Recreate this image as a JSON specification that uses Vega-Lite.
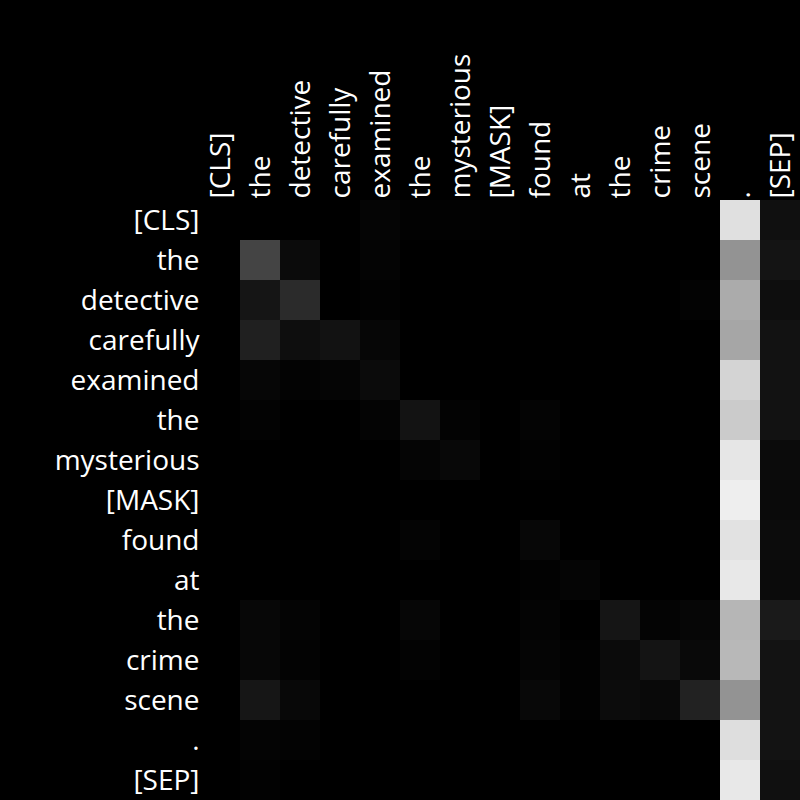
{
  "$schema": "https://vega.github.io/schema/vega-lite/v6.json",
  "width": 600,
  "height": 600,
  "autosize": {"type": "none"},
  "padding": {"left": 200, "top": 200, "right": 0, "bottom": 0},
  "background": "#000000",
  "config": {"view": {"stroke": null}, "font": "Open Sans"},
  "data": {"values": [
    {"r":0,"c":0,"v":0},{"r":0,"c":1,"v":0},{"r":0,"c":2,"v":0},{"r":0,"c":3,"v":0},{"r":0,"c":4,"v":0.020},{"r":0,"c":5,"v":0.008},{"r":0,"c":6,"v":0.006},{"r":0,"c":7,"v":0.004},{"r":0,"c":8,"v":0},{"r":0,"c":9,"v":0},{"r":0,"c":10,"v":0},{"r":0,"c":11,"v":0},{"r":0,"c":12,"v":0},{"r":0,"c":13,"v":0.878},{"r":0,"c":14,"v":0.063},
    {"r":1,"c":0,"v":0},{"r":1,"c":1,"v":0.267},{"r":1,"c":2,"v":0.043},{"r":1,"c":3,"v":0},{"r":1,"c":4,"v":0.016},{"r":1,"c":5,"v":0},{"r":1,"c":6,"v":0},{"r":1,"c":7,"v":0},{"r":1,"c":8,"v":0},{"r":1,"c":9,"v":0},{"r":1,"c":10,"v":0},{"r":1,"c":11,"v":0},{"r":1,"c":12,"v":0},{"r":1,"c":13,"v":0.576},{"r":1,"c":14,"v":0.078},
    {"r":2,"c":0,"v":0},{"r":2,"c":1,"v":0.082},{"r":2,"c":2,"v":0.169},{"r":2,"c":3,"v":0},{"r":2,"c":4,"v":0.008},{"r":2,"c":5,"v":0},{"r":2,"c":6,"v":0},{"r":2,"c":7,"v":0},{"r":2,"c":8,"v":0},{"r":2,"c":9,"v":0},{"r":2,"c":10,"v":0},{"r":2,"c":11,"v":0},{"r":2,"c":12,"v":0.012},{"r":2,"c":13,"v":0.671},{"r":2,"c":14,"v":0.055},
    {"r":3,"c":0,"v":0},{"r":3,"c":1,"v":0.125},{"r":3,"c":2,"v":0.055},{"r":3,"c":3,"v":0.071},{"r":3,"c":4,"v":0.024},{"r":3,"c":5,"v":0},{"r":3,"c":6,"v":0},{"r":3,"c":7,"v":0},{"r":3,"c":8,"v":0},{"r":3,"c":9,"v":0},{"r":3,"c":10,"v":0},{"r":3,"c":11,"v":0},{"r":3,"c":12,"v":0},{"r":3,"c":13,"v":0.651},{"r":3,"c":14,"v":0.071},
    {"r":4,"c":0,"v":0},{"r":4,"c":1,"v":0.024},{"r":4,"c":2,"v":0.012},{"r":4,"c":3,"v":0.020},{"r":4,"c":4,"v":0.043},{"r":4,"c":5,"v":0},{"r":4,"c":6,"v":0},{"r":4,"c":7,"v":0},{"r":4,"c":8,"v":0},{"r":4,"c":9,"v":0},{"r":4,"c":10,"v":0},{"r":4,"c":11,"v":0},{"r":4,"c":12,"v":0},{"r":4,"c":13,"v":0.831},{"r":4,"c":14,"v":0.071},
    {"r":5,"c":0,"v":0},{"r":5,"c":1,"v":0.012},{"r":5,"c":2,"v":0},{"r":5,"c":3,"v":0},{"r":5,"c":4,"v":0.016},{"r":5,"c":5,"v":0.075},{"r":5,"c":6,"v":0.012},{"r":5,"c":7,"v":0},{"r":5,"c":8,"v":0.016},{"r":5,"c":9,"v":0},{"r":5,"c":10,"v":0},{"r":5,"c":11,"v":0},{"r":5,"c":12,"v":0},{"r":5,"c":13,"v":0.796},{"r":5,"c":14,"v":0.071},
    {"r":6,"c":0,"v":0},{"r":6,"c":1,"v":0},{"r":6,"c":2,"v":0},{"r":6,"c":3,"v":0},{"r":6,"c":4,"v":0},{"r":6,"c":5,"v":0.020},{"r":6,"c":6,"v":0.031},{"r":6,"c":7,"v":0},{"r":6,"c":8,"v":0.008},{"r":6,"c":9,"v":0},{"r":6,"c":10,"v":0},{"r":6,"c":11,"v":0},{"r":6,"c":12,"v":0},{"r":6,"c":13,"v":0.902},{"r":6,"c":14,"v":0.043},
    {"r":7,"c":0,"v":0},{"r":7,"c":1,"v":0},{"r":7,"c":2,"v":0},{"r":7,"c":3,"v":0},{"r":7,"c":4,"v":0},{"r":7,"c":5,"v":0},{"r":7,"c":6,"v":0},{"r":7,"c":7,"v":0},{"r":7,"c":8,"v":0},{"r":7,"c":9,"v":0},{"r":7,"c":10,"v":0},{"r":7,"c":11,"v":0},{"r":7,"c":12,"v":0},{"r":7,"c":13,"v":0.933},{"r":7,"c":14,"v":0.039},
    {"r":8,"c":0,"v":0},{"r":8,"c":1,"v":0},{"r":8,"c":2,"v":0},{"r":8,"c":3,"v":0},{"r":8,"c":4,"v":0},{"r":8,"c":5,"v":0.016},{"r":8,"c":6,"v":0},{"r":8,"c":7,"v":0},{"r":8,"c":8,"v":0.027},{"r":8,"c":9,"v":0},{"r":8,"c":10,"v":0},{"r":8,"c":11,"v":0},{"r":8,"c":12,"v":0},{"r":8,"c":13,"v":0.886},{"r":8,"c":14,"v":0.047},
    {"r":9,"c":0,"v":0},{"r":9,"c":1,"v":0},{"r":9,"c":2,"v":0},{"r":9,"c":3,"v":0},{"r":9,"c":4,"v":0},{"r":9,"c":5,"v":0},{"r":9,"c":6,"v":0},{"r":9,"c":7,"v":0},{"r":9,"c":8,"v":0.008},{"r":9,"c":9,"v":0.020},{"r":9,"c":10,"v":0},{"r":9,"c":11,"v":0},{"r":9,"c":12,"v":0},{"r":9,"c":13,"v":0.910},{"r":9,"c":14,"v":0.043},
    {"r":10,"c":0,"v":0},{"r":10,"c":1,"v":0.027},{"r":10,"c":2,"v":0.016},{"r":10,"c":3,"v":0},{"r":10,"c":4,"v":0},{"r":10,"c":5,"v":0.024},{"r":10,"c":6,"v":0},{"r":10,"c":7,"v":0},{"r":10,"c":8,"v":0.016},{"r":10,"c":9,"v":0},{"r":10,"c":10,"v":0.082},{"r":10,"c":11,"v":0.016},{"r":10,"c":12,"v":0.024},{"r":10,"c":13,"v":0.714},{"r":10,"c":14,"v":0.102},
    {"r":11,"c":0,"v":0},{"r":11,"c":1,"v":0.027},{"r":11,"c":2,"v":0.012},{"r":11,"c":3,"v":0},{"r":11,"c":4,"v":0},{"r":11,"c":5,"v":0.012},{"r":11,"c":6,"v":0},{"r":11,"c":7,"v":0},{"r":11,"c":8,"v":0.020},{"r":11,"c":9,"v":0.008},{"r":11,"c":10,"v":0.043},{"r":11,"c":11,"v":0.078},{"r":11,"c":12,"v":0.035},{"r":11,"c":13,"v":0.722},{"r":11,"c":14,"v":0.075},
    {"r":12,"c":0,"v":0},{"r":12,"c":1,"v":0.086},{"r":12,"c":2,"v":0.031},{"r":12,"c":3,"v":0},{"r":12,"c":4,"v":0},{"r":12,"c":5,"v":0},{"r":12,"c":6,"v":0},{"r":12,"c":7,"v":0},{"r":12,"c":8,"v":0.031},{"r":12,"c":9,"v":0.008},{"r":12,"c":10,"v":0.047},{"r":12,"c":11,"v":0.035},{"r":12,"c":12,"v":0.133},{"r":12,"c":13,"v":0.576},{"r":12,"c":14,"v":0.075},
    {"r":13,"c":0,"v":0},{"r":13,"c":1,"v":0.016},{"r":13,"c":2,"v":0.012},{"r":13,"c":3,"v":0},{"r":13,"c":4,"v":0},{"r":13,"c":5,"v":0},{"r":13,"c":6,"v":0},{"r":13,"c":7,"v":0},{"r":13,"c":8,"v":0},{"r":13,"c":9,"v":0},{"r":13,"c":10,"v":0},{"r":13,"c":11,"v":0},{"r":13,"c":12,"v":0},{"r":13,"c":13,"v":0.871},{"r":13,"c":14,"v":0.075},
    {"r":14,"c":0,"v":0},{"r":14,"c":1,"v":0.008},{"r":14,"c":2,"v":0},{"r":14,"c":3,"v":0},{"r":14,"c":4,"v":0},{"r":14,"c":5,"v":0},{"r":14,"c":6,"v":0},{"r":14,"c":7,"v":0},{"r":14,"c":8,"v":0},{"r":14,"c":9,"v":0},{"r":14,"c":10,"v":0},{"r":14,"c":11,"v":0},{"r":14,"c":12,"v":0},{"r":14,"c":13,"v":0.910},{"r":14,"c":14,"v":0.063}
  ]},
  "mark": {"type": "rect", "strokeWidth": 0},
  "encoding": {
    "x": {
      "field": "c", "type": "ordinal",
      "scale": {"paddingInner": 0, "paddingOuter": 0},
      "axis": {
        "orient": "top", "title": null, "ticks": false, "domain": false,
        "labelAngle": -90, "labelAlign": "left", "labelBaseline": "middle",
        "labelFont": "Open Sans", "labelFontSize": 28, "labelColor": "#ffffff",
        "labelPadding": 2, "labelOffset": 2, "labelOverlap": false, "labelLimit": 0,
        "labelExpr": "['[CLS]','the','detective','carefully','examined','the','mysterious','[MASK]','found','at','the','crime','scene','.','[SEP]'][datum.value]"
      }
    },
    "y": {
      "field": "r", "type": "ordinal",
      "scale": {"paddingInner": 0, "paddingOuter": 0},
      "axis": {
        "title": null, "ticks": false, "domain": false,
        "labelAlign": "right", "labelBaseline": "middle",
        "labelFont": "Open Sans", "labelFontSize": 28, "labelColor": "#ffffff",
        "labelPadding": 1, "labelOffset": 2, "labelOverlap": false, "labelLimit": 0,
        "labelExpr": "['[CLS]','the','detective','carefully','examined','the','mysterious','[MASK]','found','at','the','crime','scene','.','[SEP]'][datum.value]"
      }
    },
    "color": {
      "field": "v", "type": "quantitative",
      "scale": {"domain": [0, 1], "range": ["#000000", "#ffffff"], "interpolate": "rgb"},
      "legend": null
    }
  }
}
